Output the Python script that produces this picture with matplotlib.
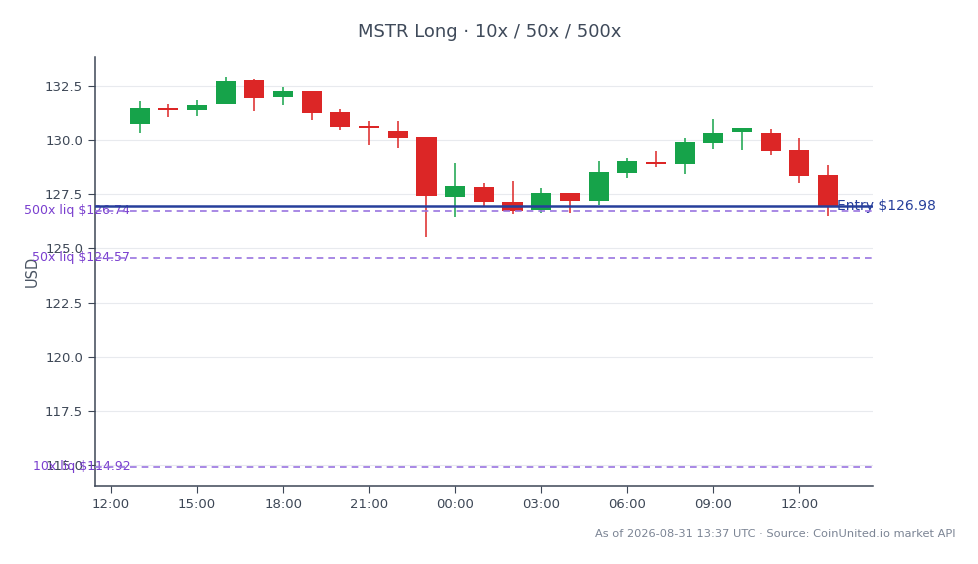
import pandas as pd
import numpy as np
import matplotlib
matplotlib.use("Agg")
import matplotlib.pyplot as plt
import matplotlib.dates as mdates

# hourly candles, MSTR
times = pd.date_range("2026-08-30 13:00", "2026-08-31 13:00", freq="h")
opens = [130.73, 131.47, 131.41, 131.68, 132.78, 132.01, 132.27, 131.30, 130.64, 130.42,
         130.15, 127.39, 127.83, 127.14, 126.78, 127.55, 127.21, 128.50, 128.99, 128.89,
         129.88, 130.39, 130.32, 129.55, 128.39]
highs = [131.82, 131.67, 131.85, 132.93, 132.80, 132.47, 132.28, 131.42, 130.89, 130.89,
         130.15, 128.96, 128.04, 128.13, 127.80, 127.56, 129.05, 129.19, 129.52, 130.12,
         130.98, 130.57, 130.52, 130.12, 128.86]
lows = [130.35, 131.08, 131.13, 131.66, 131.35, 131.62, 130.93, 130.47, 129.78, 129.65,
        125.55, 126.47, 126.96, 126.60, 126.63, 126.66, 127.01, 128.24, 128.78, 128.44,
        129.58, 129.55, 129.32, 128.04, 126.52]
closes = [131.47, 131.38, 131.62, 132.73, 131.96, 132.27, 131.27, 130.62, 130.58, 130.11,
          127.44, 127.89, 127.16, 126.75, 127.55, 127.21, 128.52, 129.04, 128.88, 129.92,
          130.32, 130.55, 129.52, 128.36, 126.98]

entry_price = 126.98
liq_names = ["500x", "50x", "10x"]
liq_prices = [126.74, 124.57, 114.92]

green = "#16a34a"
red = "#dc2626"
hour = 1 / 24

fig = plt.figure(figsize=(9.79, 5.64), dpi=100)
ax = fig.add_axes([0.097, 0.138, 0.795, 0.761])

x = mdates.date2num(times)
for xi, o, h, l, c in zip(x, opens, highs, lows, closes):
    col = green if c >= o else red
    ax.vlines(xi, l, h, color=col, lw=1.1, zorder=2)
    ax.bar(xi, abs(c - o), bottom=min(o, c), width=0.7 * hour, color=col, zorder=3)

# entry + liquidation levels
ax.axhline(entry_price, color="#263f9b", lw=1.8, zorder=5)
ax.text(x[-1] + 0.3 * hour, entry_price, f"Entry ${entry_price:.2f}", color="#263f9b",
        fontsize=10, ha="left", va="center", zorder=4)
for name, p in zip(liq_names, liq_prices):
    ax.axhline(p, color="#9a74e0", lw=1.2, ls=(0, (4, 3)), zorder=5)
    ax.text(x[0] - 0.33 * hour, p, f"{name} liq ${p:.2f}", color="#7a3fcf",
            fontsize=9, ha="right", va="center", zorder=4)

ax.set_xlim(x[0] - 1.56 * hour, x[-1] + 1.58 * hour)
ax.set_ylim(114.03, 133.84)
ax.set_yticks(np.arange(115, 133, 2.5))
ax.yaxis.set_major_formatter(matplotlib.ticker.FormatStrFormatter("%.1f"))
ax.xaxis.set_major_locator(mdates.HourLocator(byhour=range(0, 24, 3)))
ax.xaxis.set_major_formatter(mdates.DateFormatter("%H:%M"))

ax.grid(axis="y", color="#e8eaee", lw=0.8)
ax.set_axisbelow(True)
for s in ["top", "right"]:
    ax.spines[s].set_visible(False)
for s in ["left", "bottom"]:
    ax.spines[s].set_color("#3d4756")
    ax.spines[s].set_linewidth(1.1)
ax.tick_params(colors="#3d4756", labelsize=9.5, length=5)
ax.set_ylabel("USD", color="#4b5563", fontsize=10.5, labelpad=4)

fig.suptitle("MSTR Long · 10x / 50x / 500x", fontsize=13, color="#3f4a5a", y=0.96)
fig.text(0.976, 0.053, "As of 2026-08-31 13:37 UTC · Source: CoinUnited.io market API",
         ha="right", va="center", fontsize=8.2, color="#7b8494")

fig.savefig("out.png", dpi=100)
